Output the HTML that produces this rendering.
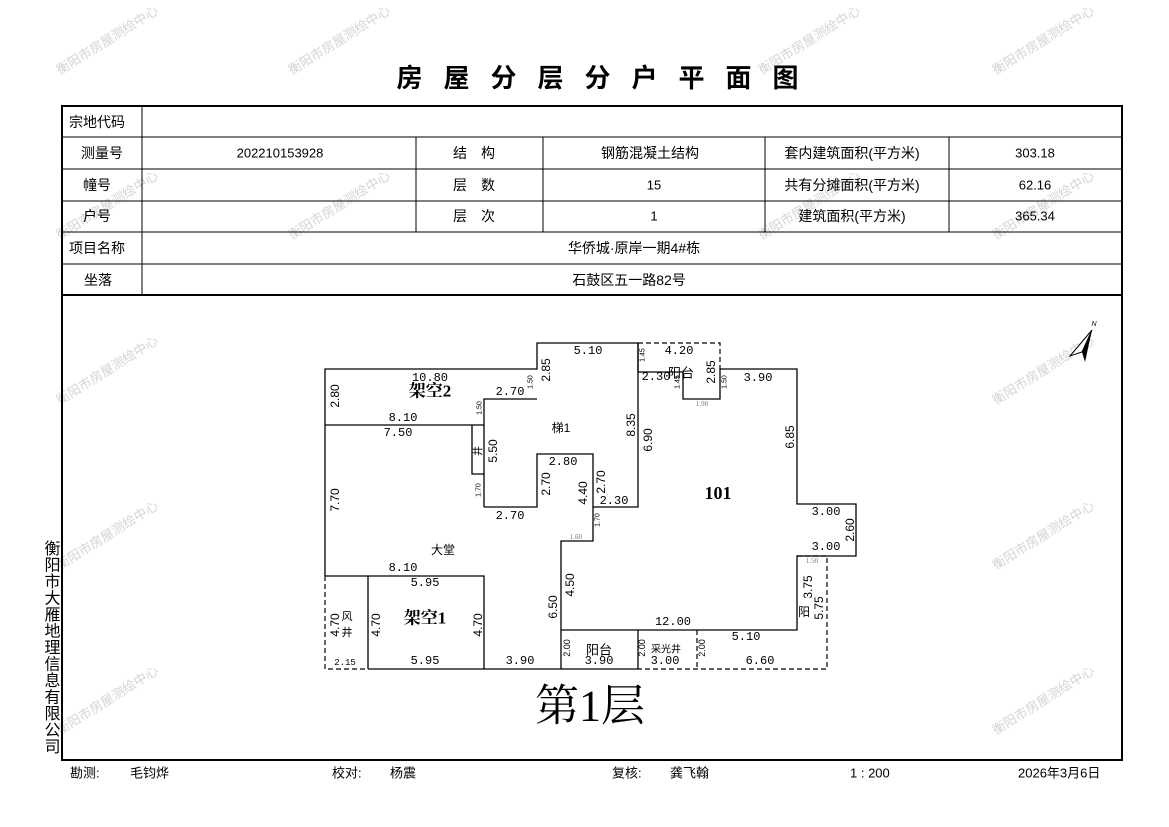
<!DOCTYPE html>
<html><head><meta charset="utf-8"><style>
html,body{margin:0;padding:0;background:#fff;}
svg{display:block;}
text{font-family:"Liberation Sans","Noto Sans CJK SC",sans-serif;fill:#000;}
.t{font-size:14px;text-anchor:middle;dominant-baseline:central;}
.d{font-family:"Liberation Mono","Noto Sans CJK SC",monospace;font-size:12px;text-anchor:middle;dominant-baseline:central;}
.s{font-family:"Liberation Serif",serif;font-size:7px;fill:#777;text-anchor:middle;dominant-baseline:central;}
.b{font-family:"Liberation Serif","Noto Serif CJK SC",serif;font-weight:bold;font-size:17px;text-anchor:middle;dominant-baseline:central;}
.w{font-size:13px;fill:#d4d4d4;}
</style></head><body>
<svg width="1169" height="827" viewBox="0 0 1169 827" xmlns="http://www.w3.org/2000/svg">
<g class="wm">
<text class="w" transform="translate(60,75) rotate(-32)">衡阳市房屋测绘中心</text>
<text class="w" transform="translate(292,75) rotate(-32)">衡阳市房屋测绘中心</text>
<text class="w" transform="translate(762,75) rotate(-32)">衡阳市房屋测绘中心</text>
<text class="w" transform="translate(996,75) rotate(-32)">衡阳市房屋测绘中心</text>
<text class="w" transform="translate(60,240) rotate(-32)">衡阳市房屋测绘中心</text>
<text class="w" transform="translate(292,240) rotate(-32)">衡阳市房屋测绘中心</text>
<text class="w" transform="translate(762,240) rotate(-32)">衡阳市房屋测绘中心</text>
<text class="w" transform="translate(996,240) rotate(-32)">衡阳市房屋测绘中心</text>
<text class="w" transform="translate(60,405) rotate(-32)">衡阳市房屋测绘中心</text>
<text class="w" transform="translate(996,405) rotate(-32)">衡阳市房屋测绘中心</text>
<text class="w" transform="translate(60,570) rotate(-32)">衡阳市房屋测绘中心</text>
<text class="w" transform="translate(996,570) rotate(-32)">衡阳市房屋测绘中心</text>
<text class="w" transform="translate(60,735) rotate(-32)">衡阳市房屋测绘中心</text>
<text class="w" transform="translate(996,735) rotate(-32)">衡阳市房屋测绘中心</text>
</g>
<text x="608" y="78" style="font-size:26px;font-weight:bold;text-anchor:middle;dominant-baseline:central;letter-spacing:21px">房屋分层分户平面图</text>
<!-- frame -->
<rect x="62" y="106" width="1060" height="654" fill="none" stroke="#000" stroke-width="2"/>
<g stroke="#000" stroke-width="1">
<line x1="62" y1="137" x2="1122" y2="137"/>
<line x1="62" y1="169" x2="1122" y2="169"/>
<line x1="62" y1="201" x2="1122" y2="201"/>
<line x1="62" y1="232" x2="1122" y2="232"/>
<line x1="62" y1="264" x2="1122" y2="264"/>
<line x1="142" y1="106" x2="142" y2="295"/>
<line x1="416" y1="137" x2="416" y2="232"/>
<line x1="543" y1="137" x2="543" y2="232"/>
<line x1="765" y1="137" x2="765" y2="232"/>
<line x1="949" y1="137" x2="949" y2="232"/>
</g>
<line x1="62" y1="295" x2="1122" y2="295" stroke="#000" stroke-width="2"/>
<text class="t" x="97" y="122">宗地代码</text>
<text class="t" x="102" y="153">测量号</text>
<text class="t" x="97" y="185">幢号</text>
<text class="t" x="97" y="216">户号</text>
<text class="t" x="97" y="248">项目名称</text>
<text class="t" x="98" y="280">坐落</text>
<text class="t" x="280" y="153" style="font-size:13px">202210153928</text>
<text class="t" x="481" y="153" style="letter-spacing:14px">结构</text>
<text class="t" x="481" y="185" style="letter-spacing:14px">层数</text>
<text class="t" x="481" y="216" style="letter-spacing:14px">层次</text>
<text class="t" x="650" y="153">钢筋混凝土结构</text>
<text class="t" x="654" y="185" style="font-size:13px">15</text>
<text class="t" x="654" y="216" style="font-size:13px">1</text>
<text class="t" x="852" y="153">套内建筑面积(平方米)</text>
<text class="t" x="852" y="185">共有分摊面积(平方米)</text>
<text class="t" x="852" y="216">建筑面积(平方米)</text>
<text class="t" x="1035" y="153" style="font-size:13px">303.18</text>
<text class="t" x="1035" y="185" style="font-size:13px">62.16</text>
<text class="t" x="1035" y="216" style="font-size:13px">365.34</text>
<text class="t" x="634" y="248">华侨城·原岸一期4#栋</text>
<text class="t" x="629" y="280">石鼓区五一路82号</text>
<!-- plan solid -->
<g fill="none" stroke="#000" stroke-width="1.3">
<polyline points="325,576 325,369 537,369 537,343 638,343 638,372 683,372 683,399 720,399 720,369 797,369 797,504 856,504 856,556 797,556 797,630 561,630 561,669 368,669"/>
<line x1="325" y1="425" x2="484" y2="425"/>
<polyline points="484,507 484,399 537,399"/>
<polyline points="472,425 472,474 484,474"/>
<polyline points="484,507 537,507 537,454 593,454 593,541 561,541 561,630"/>
<polyline points="593,507 638,507 638,343"/>
<polyline points="325,576 484,576 484,669"/>
<line x1="368" y1="576" x2="368" y2="669"/>
<line x1="561" y1="669" x2="638" y2="669"/>
<line x1="638" y1="630" x2="638" y2="669"/>
</g>
<g fill="none" stroke="#000" stroke-width="1.2" stroke-dasharray="5,3">
<polyline points="638,343 720,343 720,369"/>
<polyline points="325,576 325,669 368,669"/>
<polyline points="797,556 827,556 827,669 638,669"/>
<line x1="697" y1="630" x2="697" y2="669"/>
</g>
<!-- labels -->
<text class="d" x="430" y="378">10.80</text>
<text class="b" x="430" y="391">架空2</text>
<text class="d" x="510" y="392">2.70</text>
<text class="d" x="403" y="418">8.10</text>
<text class="d" x="398" y="433">7.50</text>
<text class="t" x="561" y="428" style="font-size:12px">梯1</text>
<text class="d" x="563" y="462">2.80</text>
<text class="d" x="510" y="516">2.70</text>
<text class="d" x="614" y="501">2.30</text>
<text class="t" x="443" y="550" style="font-size:12px">大堂</text>
<text class="d" x="403" y="568">8.10</text>
<text class="d" x="425" y="583">5.95</text>
<text class="b" x="425" y="618">架空1</text>
<text class="d" x="425" y="661">5.95</text>
<text class="d" x="345" y="663" style="font-size:9px">2.15</text>
<text class="d" x="520" y="661">3.90</text>
<text class="d" x="588" y="351">5.10</text>
<text class="d" x="679" y="351">4.20</text>
<text class="d" x="656" y="377">2.30</text>
<text class="t" x="681" y="373" style="font-size:13px">阳台</text>
<text class="s" x="702" y="404">1.90</text>
<text class="d" x="758" y="378">3.90</text>
<text class="b" x="718" y="493" style="font-size:18px">101</text>
<text class="d" x="826" y="512">3.00</text>
<text class="d" x="826" y="547">3.00</text>
<text class="d" x="673" y="622">12.00</text>
<text class="d" x="746" y="637">5.10</text>
<text class="d" x="760" y="661">6.60</text>
<text class="t" x="599" y="650" style="font-size:13px">阳台</text>
<text class="d" x="599" y="661">3.90</text>
<text class="t" x="666" y="650" style="font-size:10px">采光井</text>
<text class="d" x="665" y="661">3.00</text>
<text class="s" x="576" y="537">1.60</text>
<text class="s" x="812" y="561">1.50</text>
<text class="t" x="347" y="617" style="font-size:11px">风</text>
<text class="t" x="347" y="633" style="font-size:11px">井</text>
<text class="t" x="804" y="612" style="font-size:12px">阳</text>
<g class="d">
<text transform="translate(335,396) rotate(-90)">2.80</text>
<text transform="translate(335,500) rotate(-90)">7.70</text>
<text transform="translate(335,625) rotate(-90)">4.70</text>
<text transform="translate(376,625) rotate(-90)">4.70</text>
<text transform="translate(478,625) rotate(-90)">4.70</text>
<text transform="translate(546,370) rotate(-90)">2.85</text>
<text transform="translate(493,451) rotate(-90)">5.50</text>
<text transform="translate(546,484) rotate(-90)">2.70</text>
<text transform="translate(583,493) rotate(-90)">4.40</text>
<text transform="translate(601,482) rotate(-90)">2.70</text>
<text transform="translate(631,425) rotate(-90)">8.35</text>
<text transform="translate(648,440) rotate(-90)">6.90</text>
<text transform="translate(711,372) rotate(-90)">2.85</text>
<text transform="translate(790,437) rotate(-90)">6.85</text>
<text transform="translate(850,530) rotate(-90)">2.60</text>
<text transform="translate(570,585) rotate(-90)">4.50</text>
<text transform="translate(553,607) rotate(-90)">6.50</text>
<text transform="translate(808,587) rotate(-90)">3.75</text>
<text transform="translate(819,608) rotate(-90)">5.75</text>
<text transform="translate(567,648) rotate(-90)" style="font-size:9px">2.00</text>
<text transform="translate(642,648) rotate(-90)" style="font-size:9px">2.00</text>
<text transform="translate(702,648) rotate(-90)" style="font-size:9px">2.00</text>
</g>
<text class="t" transform="translate(479,451) rotate(-90)" style="font-size:10px">井</text>
<g class="s">
<text transform="translate(480,408) rotate(-90)">1.50</text>
<text transform="translate(531,382) rotate(-90)">1.50</text>
<text transform="translate(479,490) rotate(-90)">1.70</text>
<text transform="translate(598,520) rotate(-90)">1.70</text>
<text transform="translate(643,355) rotate(-90)">1.45</text>
<text transform="translate(678,382) rotate(-90)">1.45</text>
<text transform="translate(725,382) rotate(-90)">1.50</text>
</g>
<text x="590" y="706" style="font-family:'Liberation Serif','Noto Serif CJK SC',serif;font-size:44px;text-anchor:middle;dominant-baseline:central">第1层</text>
<!-- north arrow -->
<polygon points="1092,330 1070,356 1082,352" fill="#fff" stroke="#000" stroke-width="1"/>
<polygon points="1092,330 1082,352 1085,362" fill="#000"/>
<text x="1094" y="326" style="font-size:7px;font-style:italic;text-anchor:middle">N</text>
<!-- left company -->
<text x="50" y="540" style="font-size:16px;writing-mode:tb;glyph-orientation-vertical:0;text-anchor:start;letter-spacing:0.5px">衡阳市大雁地理信息有限公司</text>
<!-- footer -->
<g style="font-size:13px;dominant-baseline:central">
<text x="70" y="773">勘测:</text>
<text x="130" y="773">毛钧烨</text>
<text x="332" y="773">校对:</text>
<text x="390" y="773">杨震</text>
<text x="612" y="773">复核:</text>
<text x="670" y="773">龚飞翰</text>
<text x="850" y="773">1 : 200</text>
<text x="1018" y="773">2026年3月6日</text>
</g>
</svg>
</body></html>
